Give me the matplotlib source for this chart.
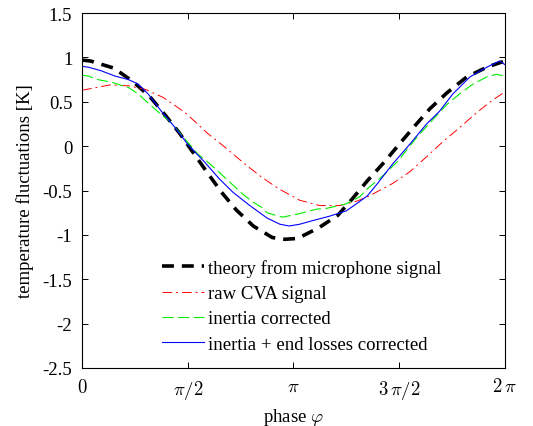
import numpy as np
import matplotlib.pyplot as plt

# phase values are given in units of pi
theory_phase = [0, 0.04, 0.15, 0.24, 0.32, 0.39, 0.46, 0.525, 0.59, 0.66, 0.73, 0.81,
                0.90, 0.96, 1.02, 1.12, 1.21, 1.28, 1.35, 1.43, 1.50, 1.575, 1.645,
                1.726, 1.82, 1.915, 2.0]
theory_T = [0.97, 0.96, 0.88, 0.73, 0.56, 0.36, 0.15, -0.07, -0.29, -0.52, -0.72, -0.90,
            -1.03, -1.05, -1.04, -0.92, -0.78, -0.59, -0.39, -0.18, 0.02, 0.23, 0.42,
            0.60, 0.78, 0.89, 0.96]

raw_phase = [0, 0.13, 0.22, 0.30, 0.383, 0.487, 0.596, 0.67, 0.78, 0.85, 0.93, 1.03,
             1.125, 1.22, 1.30, 1.36, 1.47, 1.55, 1.63, 1.707, 1.787, 1.868, 1.943, 2.0]
raw_T = [0.63, 0.69, 0.68, 0.64, 0.55, 0.38, 0.14, 0.0, -0.22, -0.35, -0.48, -0.61,
         -0.67, -0.67, -0.62, -0.56, -0.42, -0.29, -0.12, 0.05, 0.21, 0.38, 0.52, 0.61]

inertia_phase = [0, 0.03, 0.075, 0.14, 0.22, 0.265, 0.32, 0.373, 0.42, 0.487, 0.548,
                 0.605, 0.66, 0.71, 0.76, 0.808, 0.85, 0.875, 0.93, 0.95, 1.03, 1.11,
                 1.16, 1.25, 1.314, 1.35, 1.42, 1.49, 1.584, 1.66, 1.726, 1.787, 1.85,
                 1.915, 1.96, 2.0]
inertia_T = [0.80, 0.79, 0.75, 0.72, 0.66, 0.59, 0.47, 0.36, 0.27, 0.08, -0.09,
             -0.20, -0.32, -0.43, -0.54, -0.63, -0.69, -0.75, -0.79, -0.80, -0.76, -0.71,
             -0.70, -0.65, -0.57, -0.48, -0.34, -0.18, 0.10, 0.30, 0.47, 0.59, 0.70,
             0.78, 0.81, 0.79]

full_phase = [0, 0.03, 0.09, 0.156, 0.22, 0.265, 0.312, 0.373, 0.44, 0.50, 0.58, 0.65,
              0.714, 0.794, 0.875, 0.936, 0.98, 1.03, 1.09, 1.17, 1.25, 1.31, 1.35,
              1.395, 1.47, 1.55, 1.63, 1.69, 1.755, 1.835, 1.915, 1.976, 2.0]
full_T = [0.90, 0.89, 0.85, 0.79, 0.75, 0.70, 0.59, 0.40, 0.21, 0.02, -0.18, -0.37,
          -0.52, -0.67, -0.81, -0.88, -0.90, -0.88, -0.84, -0.79, -0.73, -0.63, -0.56,
          -0.43, -0.20, 0.02, 0.25, 0.39, 0.59, 0.78, 0.89, 0.96, 0.92]

xtick_labels = [r'$0$', r'$\pi/2$', r'$\pi$', r'$3\,\pi/2$', r'$2\,\pi$']

plt.rcParams['font.family'] = ['Liberation Serif', 'DejaVu Serif']
plt.rcParams['mathtext.fontset'] = 'cm'
plt.rcParams['font.size'] = 13.5

fig = plt.figure(figsize=(5.33, 4.27), dpi=100)
ax = fig.add_axes([0.154, 0.136, 0.793, 0.831])

ax.plot(np.array(theory_phase) * np.pi, theory_T, color='black', lw=2.6,
        dashes=(3.3, 2.2), label='theory from microphone signal')
ax.plot(np.array(raw_phase) * np.pi, raw_T, color='red', lw=0.7,
        dashes=(10, 4, 2, 4), label='raw CVA signal')
ax.plot(np.array(inertia_phase) * np.pi, inertia_T, color='#00ee00', lw=0.8,
        dashes=(10, 4), label='inertia corrected')
ax.plot(np.array(full_phase) * np.pi, full_T, color='blue', lw=0.8,
        label='inertia + end losses corrected')

ax.set_xlim(0, 2 * np.pi)
ax.set_ylim(-2.5, 1.5)
ax.set_xticks(np.arange(5) * np.pi / 2)
ax.set_xticklabels(xtick_labels)
ax.set_yticks([-2.5, -2, -1.5, -1, -0.5, 0, 0.5, 1, 1.5])
ax.set_yticklabels(['-2.5', '-2', '-1.5', '-1', '-0.5', '0', '0.5', '1', '1.5'])
ax.tick_params(direction='in', top=True, right=True, length=4, width=0.7, pad=7)
for s in ax.spines.values():
    s.set_linewidth(0.8)

ax.set_xlabel(r'phase $\varphi$', labelpad=4)
ax.set_ylabel('temperature fluctuations [K]', labelpad=6)

ax.legend(loc='upper left', bbox_to_anchor=(0.168, 0.333), frameon=False,
          borderpad=0, handlelength=2.2, handletextpad=0.25, labelspacing=0.43)

fig.savefig('out.png', dpi=100)
